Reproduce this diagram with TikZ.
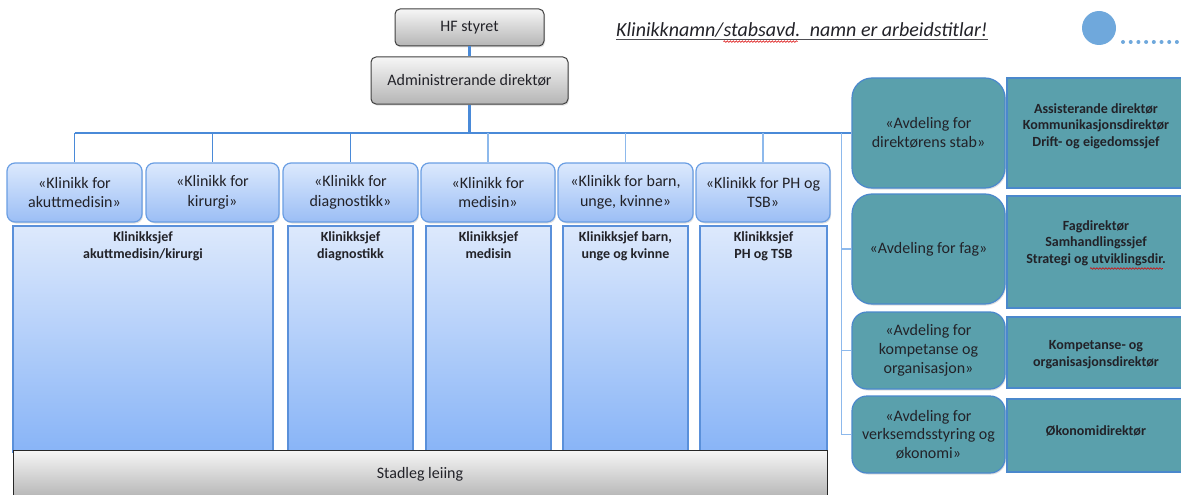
\documentclass[tikz,border=0pt]{standalone}
\usepackage{fontspec}
\setmainfont{Carlito}
\usetikzlibrary{shadows,decorations.pathmorphing}
\definecolor{txt}{HTML}{222228}
\definecolor{hdrtop}{HTML}{DCE9FD}
\definecolor{hdrbot}{HTML}{9BBEF5}
\definecolor{hdrline}{HTML}{6A9EE3}
\definecolor{bodytop}{HTML}{DDE9FC}
\definecolor{bodybot}{HTML}{88B4F7}
\definecolor{bodyline}{HTML}{5A90DA}
\definecolor{tealfill}{HTML}{5AA0AC}
\definecolor{tealline}{HTML}{4A88CC}
\definecolor{connc}{HTML}{4A8AD8}
\definecolor{connlight}{HTML}{8DB9EC}
\definecolor{graytop}{HTML}{F6F6F6}
\definecolor{graybot}{HTML}{B5B5B5}
\definecolor{dotblue}{HTML}{6FA8DC}
\begin{document}
\begin{tikzpicture}[x=1pt,y=-1pt,
  shad/.style={drop shadow={shadow xshift=1pt,shadow yshift=-1.5pt,opacity=0.25}},
  gbox/.style={draw=black!75,line width=1pt,rounded corners=5,top color=graytop,bottom color=graybot,
    font=\fontsize{16}{19.5}\selectfont,text=txt,inner sep=0pt,shad},
  hdr/.style={draw=hdrline,line width=1.2pt,rounded corners=8,top color=hdrtop,bottom color=hdrbot,
    minimum height=59pt,align=center,font=\fontsize{16}{19.5}\selectfont,text=txt,inner sep=0pt,shad},
  bodybox/.style={draw=bodyline,line width=1.2pt,top color=bodytop,bottom color=bodybot,minimum height=226pt,inner sep=0pt},
  bodytxt/.style={font=\bfseries\fontsize{14}{17}\selectfont,align=center,anchor=north,inner sep=0pt,text=txt},
  tlbox/.style={draw=tealline,line width=1.2pt,fill=tealfill,minimum width=153pt,align=center,
    font=\fontsize{16}{18.7}\selectfont,text=txt,inner sep=0pt,shad},
  trbox/.style={draw=tealline,line width=1.2pt,fill=tealfill,minimum width=178pt,inner sep=0pt},
  rtxt/.style={font=\bfseries\fontsize{14}{16.7}\selectfont,align=center,inner sep=0pt,text=txt},
  conn/.style={draw=connc,line width=1.6pt},
  connl/.style={draw=connlight,line width=1.6pt},
  ttl/.style={font=\itshape\fontsize{20}{24}\selectfont,text=txt,inner sep=0pt,anchor=base west},
  wavy/.style={draw=red!85!black,line width=0.6pt,decorate,decoration={snake,amplitude=0.8pt,segment length=3pt}}
]
\useasboundingbox (0,0) rectangle (1181,495);

% top boxes
\node[gbox,minimum width=149pt,minimum height=37pt] (hf) at (469.5,27.5) {HF styret};
\node[gbox,minimum width=197pt,minimum height=47pt] (ad) at (469.5,80.5) {Administrerande direktør};

% title
\node[ttl] (ti1) at (616,37) {Klinikknamn/};
\node[ttl] (ti2) at (ti1.base east) {stabsavd.};
\node[ttl] (ti3) at ([xshift=9pt]ti2.base east) {namn er arbeidstitlar!};
\draw[draw=txt!80,line width=1pt] ([yshift=-2.8pt]ti1.base west) -- ([yshift=-2.8pt]ti3.base east);
\draw[wavy] ([yshift=-4.6pt]ti2.base west) -- ([yshift=-4.6pt,xshift=-3pt]ti2.base east);

% decoration circle and dots
\fill[dotblue] (1099,28) circle (17pt);
\foreach \k in {0,...,7} \fill[dotblue] (1123+7.7*\k,42) circle (2pt);

% clinic body boxes
\node[bodybox,minimum width=260pt] (b1) at (143,339) {};
\node[bodybox,minimum width=125pt] (b2) at (350.5,339) {};
\node[bodybox,minimum width=125pt] (b3) at (488.5,339) {};
\node[bodybox,minimum width=125pt] (b4) at (625.5,339) {};
\node[bodybox,minimum width=127pt] (b5) at (763.5,339) {};
\node[bodytxt] (b1t) at ([yshift=-6pt]b1.north) {Klinikksjef\\akuttmedisin/kirurgi};
\node[bodytxt] (b2t) at ([yshift=-6pt]b2.north) {Klinikksjef\\diagnostikk};
\node[bodytxt] (b3t) at ([yshift=-6pt]b3.north) {Klinikksjef\\medisin};
\node[bodytxt] (b4t) at ([yshift=-6pt]b4.north) {Klinikksjef barn,\\unge og kvinne};
\node[bodytxt] (b5t) at ([yshift=-6pt]b5.north) {Klinikksjef\\PH og TSB};

% clinic headers
\node[hdr,minimum width=135pt] (h1) at (74.5,192.5) {«Klinikk for\\akuttmedisin»};
\node[hdr,minimum width=133pt] (h2) at (212.5,192.5) {«Klinikk for\\kirurgi»};
\node[hdr,minimum width=135pt] (h3) at (350.5,192.5) {«Klinikk for\\diagnostikk»};
\node[hdr,minimum width=134pt] (h4) at (488,192.5) {«Klinikk for\\medisin»};
\node[hdr,minimum width=135pt] (h5) at (625.5,192.5) {«Klinikk for barn,\\unge, kvinne»};
\node[hdr,minimum width=134pt] (h6) at (763,192.5) {«Klinikk for PH og\\TSB»};

% bottom bar
\node[gbox,rounded corners=0pt,draw=black!85,minimum width=814pt,minimum height=48pt,drop shadow={opacity=0}] (st) at (420,474) {Stadleg leiing};

% staff departments
\node[tlbox,rounded corners=20,minimum height=110pt] (t1) at (928.5,133) {«Avdeling for\\direktørens stab»};
\node[tlbox,rounded corners=20,minimum height=110pt] (t2) at (928.5,249) {«Avdeling for fag»};
\node[tlbox,rounded corners=15,minimum height=77pt] (t3) at (928.5,350.5) {«Avdeling for\\kompetanse og\\organisasjon»};
\node[tlbox,rounded corners=15,minimum height=77pt] (t4) at (928.5,434.5) {«Avdeling for\\verksemdsstyring og\\økonomi»};

\node[trbox,minimum height=110pt] (r1) at (1096,133) {};
\node[trbox,minimum height=112pt] (r2) at (1096,252) {};
\node[trbox,minimum height=71pt] (r3) at (1096,352.5) {};
\node[trbox,minimum height=73pt] (r4) at (1096,435.5) {};
\node[rtxt] (r1t) at ([yshift=7pt]r1.center) {Assisterande direktør\\Kommunikasjonsdirektør\\Drift- og eigedomssjef};
\node[rtxt] (r2t) at ([yshift=9pt]r2.center) {Fagdirektør\\Samhandlingssjef\\Strategi og utviklingsdir.};
\node[rtxt] (r3t) at ([yshift=-2pt]r3.center) {Kompetanse- og\\organisasjonsdirektør};
\node[rtxt] (r4t) at ([yshift=5pt]r4.center) {Økonomidirektør};
\draw[wavy] ([xshift=-6pt,yshift=-2.5pt]r2t.south) -- ([xshift=-3pt,yshift=-2.5pt]r2t.south east);

% connectors
\coordinate (bus) at (ad.south |- t1.west);
\draw[conn,line width=2.2pt] (hf) -- (ad);
\draw[conn,line width=2.4pt] (ad.south) -- (bus);
\draw[conn] (h1.north |- t1.west) -- (t1.west);
\foreach \h in {h1,h2,h3} \draw[conn] (\h.north |- t1.west) -- (\h.north);
\foreach \h in {h4,h5,h6} \draw[connl] (\h.north |- t1.west) -- (\h.north);
\coordinate (vx) at ([xshift=-10pt]t1.west);
\draw[connl,line width=1.3pt] (vx) -- (vx |- t4.west);
\foreach \t in {t2,t3,t4} \draw[connl,line width=1.3pt] (vx |- \t.west) -- (\t.west);
\end{tikzpicture}
\end{document}
